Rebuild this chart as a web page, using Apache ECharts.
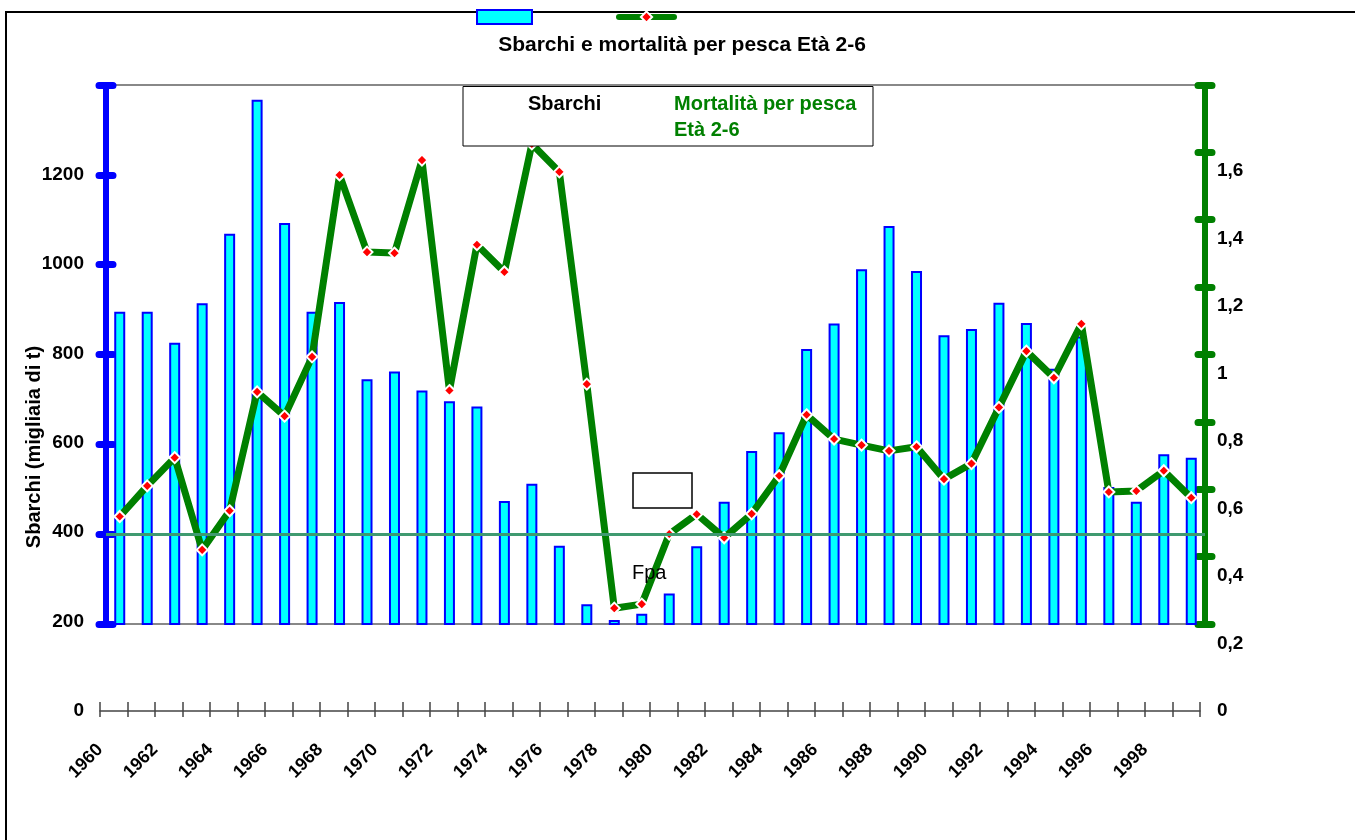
<!DOCTYPE html>
<html>
<head>
<meta charset="utf-8">
<script src="https://cdn.jsdelivr.net/npm/echarts@6/dist/echarts.min.js"></script>
<style>
html,body{margin:0;padding:0;background:#fff;}
#chart{width:1355px;height:840px;}
</style>
</head>
<body>
<div id="chart"></div>
<script>
// ---- data ----
const years = ['1960','1961','1962','1963','1964','1965','1966','1967','1968','1969',
               '1970','1971','1972','1973','1974','1975','1976','1977','1978','1979',
               '1980','1981','1982','1983','1984','1985','1986','1987','1988','1989',
               '1990','1991','1992','1993','1994','1995','1996','1997','1998','1999'];
const sbarchi = [895, 895, 826, 914, 1069, 1367, 1093, 895, 917, 745,
                 762, 720, 696, 684, 474, 512, 374, 244, 209, 223,
                 268, 373, 472, 585, 627, 812, 869, 990, 1086, 986,
                 843, 857, 915, 870, 768, 840, 505, 472, 578, 570];
const mortalita = [0.574, 0.665, 0.749, 0.475, 0.591, 0.944, 0.872, 1.048, 1.588, 1.359,
                   1.356, 1.632, 0.948, 1.381, 1.300, 1.680, 1.597, 0.967, 0.302, 0.314,
                   0.522, 0.581, 0.511, 0.582, 0.695, 0.876, 0.804, 0.786, 0.769, 0.781,
                   0.685, 0.731, 0.898, 1.065, 0.986, 1.146, 0.647, 0.650, 0.710, 0.630];
const fpa = 0.52;
const tickYearStart = 1960, tickYearEnd = 2000;

const FONT = "'Liberation Sans', Arial, sans-serif";
const fmtComma = v => { if (v > 1.7) return ''; return String(+v.toFixed(1)).replace('.', ','); };

const chart = echarts.init(document.getElementById('chart'), null, {renderer:'canvas'});
chart.setOption({
  animation: false,
  backgroundColor: '#fff',
  textStyle: { fontFamily: FONT },
  title: {
    text: 'Sbarchi e mortalità per pesca Età 2-6',
    left: 677, top: 30, textAlign: 'center',
    textStyle: { fontFamily: FONT, fontSize: 21, fontWeight: 'bold', color: '#000' }
  },
  legend: {
    left: 471, top: 4, itemWidth: 55, itemHeight: 14, itemGap: 83,
    formatter: () => '',
    data: [
      { name: 'Sbarchi', icon: 'rect' },
      { name: 'Mortalità per pesca Età 2-6', lineStyle: { width: 6, color: '#008000', cap: 'round' } }
    ],
    z: 20
  },
  grid: [
    { left: 106, right: 150, top: 85, height: 539, show: true, borderColor: '#888', borderWidth: 2, backgroundColor: 'transparent' },
    { left: 100, right: 155, top: 85, height: 626, show: false }
  ],
  xAxis: [
    { gridIndex: 0, type: 'category', data: years, boundaryGap: true, show: false },
    { gridIndex: 1, type: 'value', min: tickYearStart, max: tickYearEnd, interval: 1, position: 'bottom',
      axisLine: { show: true, onZero: false, lineStyle: { color: '#444', width: 1.5 } },
      axisTick: { show: true, length: 6, lineStyle: { color: '#444', width: 1.5 } },
      axisLabel: { rotate: 45, margin: 36, color: '#000', fontSize: 18, fontWeight: 'bold', fontFamily: FONT,
        formatter: v => (v % 2 === 0 && v < tickYearEnd) ? String(v) : '' },
      splitLine: { show: false } },
    { gridIndex: 1, type: 'value', min: tickYearStart, max: tickYearEnd, interval: 1, position: 'bottom',
      axisLine: { show: false, onZero: false },
      axisTick: { show: true, inside: true, length: 9, lineStyle: { color: '#444', width: 1.5 } },
      axisLabel: { show: false }, splitLine: { show: false } }
  ],
  yAxis: [
    { gridIndex: 0, type: 'value', position: 'left', min: 200, max: 1400, interval: 200,
      axisLine: { show: true, onZero: false, lineStyle: { color: '#0000FF', width: 6 } },
      axisTick: { show: true, length: 7, lineStyle: { color: '#0000FF', width: 7, cap: 'round' } },
      axisLabel: { show: false }, splitLine: { show: false } },
    { gridIndex: 0, type: 'value', position: 'left', min: 200, max: 1400, interval: 200,
      axisLine: { show: false, onZero: false },
      axisTick: { show: true, inside: true, length: 7, lineStyle: { color: '#0000FF', width: 7, cap: 'round' } },
      axisLabel: { show: false }, splitLine: { show: false } },
    { gridIndex: 0, type: 'value', position: 'right', min: 0.255, max: 1.855, interval: 0.2,
      axisLine: { show: true, onZero: false, lineStyle: { color: '#008000', width: 6 } },
      axisTick: { show: true, length: 7, lineStyle: { color: '#008000', width: 7, cap: 'round' } },
      axisLabel: { show: false }, splitLine: { show: false } },
    { gridIndex: 0, type: 'value', position: 'right', min: 0.255, max: 1.855, interval: 0.2,
      axisLine: { show: false, onZero: false },
      axisTick: { show: true, inside: true, length: 7, lineStyle: { color: '#008000', width: 7, cap: 'round' } },
      axisLabel: { show: false }, splitLine: { show: false } },
    { gridIndex: 1, type: 'value', position: 'left', min: 0, max: 1400, interval: 200,
      axisLine: { show: false, onZero: false }, axisTick: { show: false }, splitLine: { show: false },
      axisLabel: { margin: 16, color: '#000', fontSize: 19, fontWeight: 'bold', fontFamily: FONT,
        formatter: v => v >= 1400 ? '' : String(v) } },
    { gridIndex: 1, type: 'value', position: 'right', min: 0, max: 1.855, interval: 0.2,
      axisLine: { show: false, onZero: false }, axisTick: { show: false }, splitLine: { show: false },
      axisLabel: { margin: 17, color: '#000', fontSize: 19, fontWeight: 'bold', fontFamily: FONT,
        formatter: fmtComma } }
  ],
  series: [
    { name: 'Sbarchi', type: 'bar', xAxisIndex: 0, yAxisIndex: 0, data: sbarchi, barWidth: 11,
      itemStyle: { color: '#00FFFF', borderColor: '#0000FF', borderWidth: 2 }, z: 2 },
    { name: 'Mortalità per pesca Età 2-6', type: 'line', xAxisIndex: 0, yAxisIndex: 2, data: mortalita,
      symbol: 'diamond', symbolSize: 11, showAllSymbol: true,
      itemStyle: { color: '#FF0000', borderColor: '#FFFFFF', borderWidth: 2 },
      lineStyle: { color: '#008000', width: 7 }, z: 4,
      markLine: { silent: true, symbol: 'none', label: { show: false },
        lineStyle: { color: '#3f9a70', width: 3, type: 'solid' },
        data: [{ yAxis: fpa }] } }
  ],
  graphic: [
    { type: 'rect', z: 0, silent: true, shape: { x: 6, y: 12, width: 1400, height: 1000 },
      style: { fill: 'none', stroke: '#000', lineWidth: 2 } },
    { type: 'text', z: 10, silent: true, x: 34, y: 447, rotation: Math.PI / 2,
      style: { text: 'Sbarchi (migliaia di t)', fill: '#000', font: 'bold 20px ' + FONT, textAlign: 'center', textVerticalAlign: 'middle' } },
    { type: 'rect', z: 10, silent: true, shape: { x: 463, y: 86.5, width: 410, height: 59.5 },
      style: { fill: '#fff', stroke: '#000', lineWidth: 1 } },
    { type: 'text', z: 11, silent: true, x: 528, y: 104,
      style: { text: 'Sbarchi', fill: '#000', font: 'bold 20px ' + FONT, textVerticalAlign: 'middle' } },
    { type: 'text', z: 11, silent: true, x: 674, y: 104,
      style: { text: 'Mortalità per pesca', fill: '#008000', font: 'bold 20px ' + FONT, textVerticalAlign: 'middle' } },
    { type: 'text', z: 11, silent: true, x: 674, y: 130,
      style: { text: 'Età 2-6', fill: '#008000', font: 'bold 20px ' + FONT, textVerticalAlign: 'middle' } },
    { type: 'rect', z: 10, silent: true, shape: { x: 633, y: 473, width: 59, height: 35 },
      style: { fill: '#fff', stroke: '#000', lineWidth: 1.5 } },
    { type: 'text', z: 10, silent: true, x: 632, y: 573,
      style: { text: 'Fpa', fill: '#000', font: '20px ' + FONT, textVerticalAlign: 'middle' } }
  ]
});
</script>
</body>
</html>
